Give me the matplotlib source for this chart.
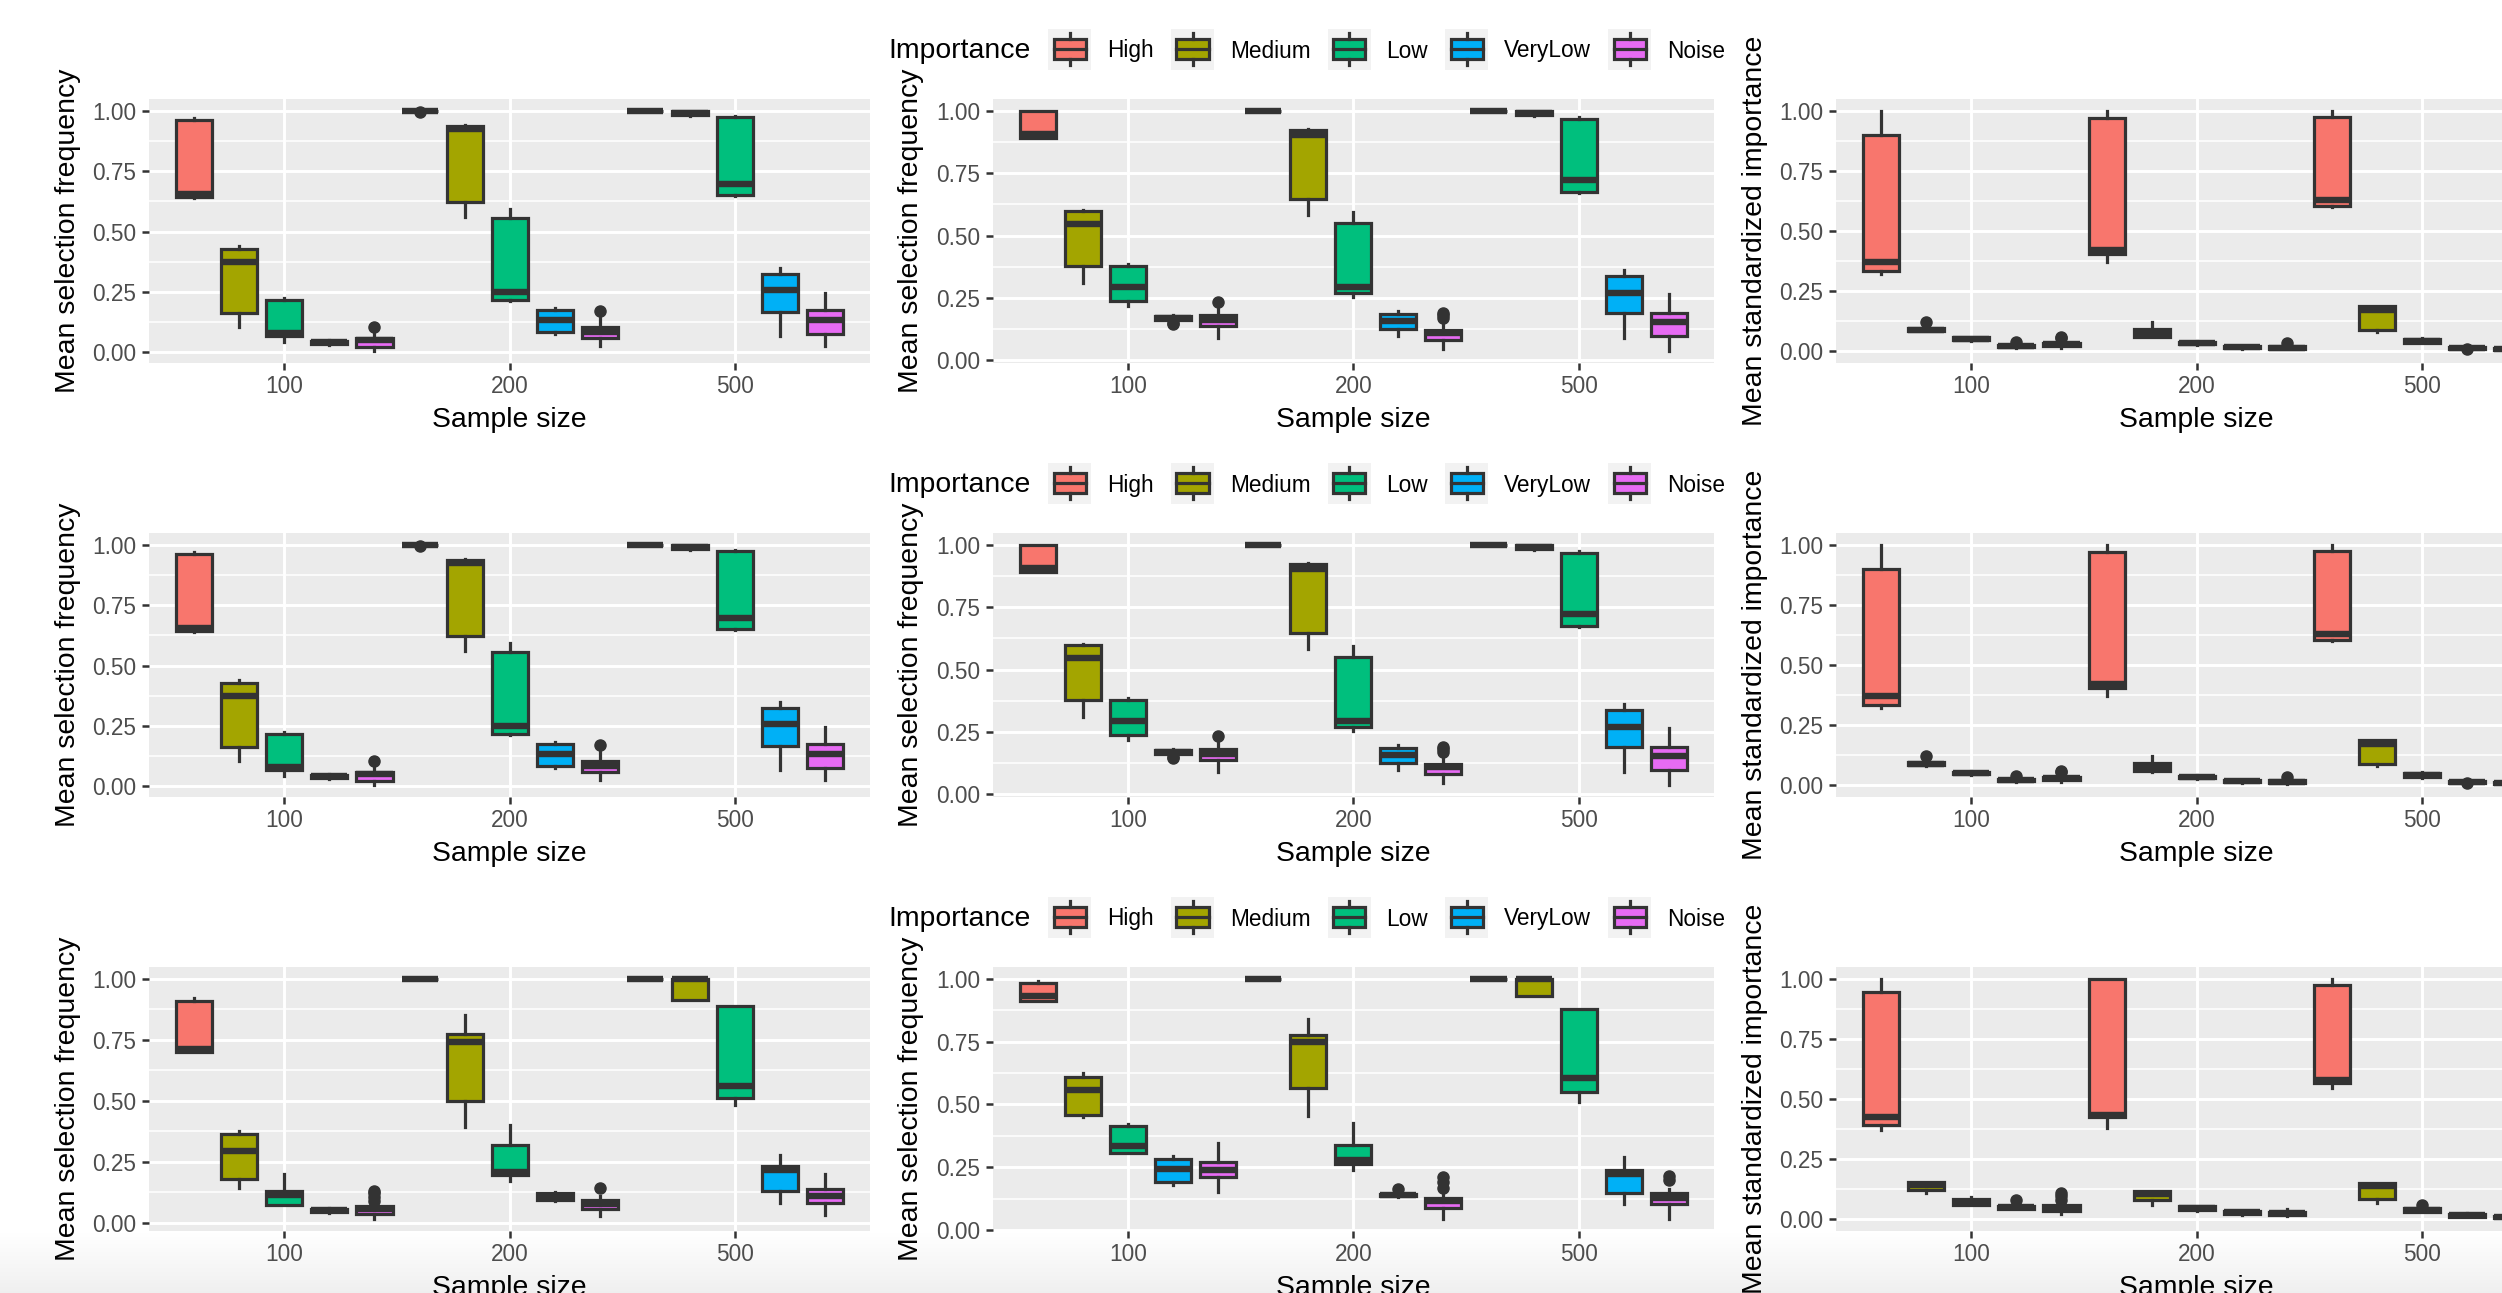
import numpy as np
import matplotlib.pyplot as plt
from matplotlib.patches import Rectangle
from matplotlib.ticker import FixedLocator

plt.rcParams['font.family'] = ['Liberation Sans', 'DejaVu Sans']

sample_sizes = ['100', '200', '500']
levels = ['High', 'Medium', 'Low', 'VeryLow', 'Noise']
level_colors = ['#F8766D', '#A3A500', '#00BF7D', '#00B0F6', '#E76BF3']
y_ticks = [0.0, 0.25, 0.5, 0.75, 1.0]
y_minor = [0.125, 0.375, 0.625, 0.875]

# each row: lower whisker, q1, median, q3, upper whisker
# rows 0-4 -> n=100 (High..Noise), 5-9 -> n=200, 10-14 -> n=500
freq_top_a = [
    [0.640, 0.642, 0.656, 0.961, 0.970],
    [0.106, 0.161, 0.374, 0.429, 0.439],
    [0.044, 0.069, 0.081, 0.216, 0.223],
    [0.030, 0.034, 0.041, 0.048, 0.052],
    [0.007, 0.023, 0.050, 0.060, 0.080],
    [1.000, 1.000, 1.000, 1.000, 1.000],
    [0.560, 0.624, 0.925, 0.937, 0.942],
    [0.213, 0.215, 0.248, 0.558, 0.594],
    [0.078, 0.085, 0.136, 0.175, 0.182],
    [0.028, 0.058, 0.083, 0.106, 0.154],
    [0.998, 0.998, 1.000, 1.000, 1.000],
    [0.980, 0.982, 0.990, 1.000, 1.000],
    [0.649, 0.653, 0.695, 0.972, 0.979],
    [0.069, 0.168, 0.260, 0.323, 0.351],
    [0.028, 0.076, 0.135, 0.177, 0.246],
]
freq_top_a_out = {4: [0.106], 5: [0.995], 9: [0.171]}

freq_top_b = [
    [0.890, 0.891, 0.907, 1.000, 1.000],
    [0.309, 0.378, 0.545, 0.598, 0.601],
    [0.218, 0.239, 0.295, 0.379, 0.386],
    [0.160, 0.162, 0.169, 0.178, 0.182],
    [0.089, 0.136, 0.160, 0.180, 0.207],
    [0.998, 0.998, 1.000, 1.000, 1.000],
    [0.581, 0.648, 0.904, 0.923, 0.926],
    [0.255, 0.269, 0.293, 0.551, 0.594],
    [0.098, 0.126, 0.156, 0.185, 0.198],
    [0.047, 0.082, 0.110, 0.122, 0.149],
    [0.998, 0.998, 1.000, 1.000, 1.000],
    [0.980, 0.982, 0.990, 1.000, 1.000],
    [0.672, 0.673, 0.723, 0.968, 0.976],
    [0.089, 0.191, 0.271, 0.338, 0.364],
    [0.039, 0.098, 0.152, 0.189, 0.265],
]
freq_top_b_out = {3: [0.145, 0.150], 4: [0.233], 9: [0.170, 0.180, 0.190]}

imp_top = [
    [0.321, 0.331, 0.368, 0.899, 1.000],
    [0.080, 0.083, 0.088, 0.095, 0.100],
    [0.040, 0.043, 0.050, 0.055, 0.058],
    [0.012, 0.014, 0.020, 0.025, 0.028],
    [0.011, 0.018, 0.027, 0.034, 0.040],
    [0.370, 0.404, 0.418, 0.968, 1.000],
    [0.055, 0.058, 0.068, 0.090, 0.120],
    [0.025, 0.027, 0.033, 0.038, 0.041],
    [0.008, 0.011, 0.014, 0.018, 0.020],
    [0.005, 0.008, 0.012, 0.018, 0.022],
    [0.597, 0.604, 0.630, 0.972, 1.000],
    [0.076, 0.086, 0.170, 0.186, 0.186],
    [0.030, 0.032, 0.042, 0.050, 0.052],
    [0.004, 0.006, 0.010, 0.014, 0.016],
    [0.000, 0.003, 0.006, 0.010, 0.013],
]
imp_top_out = {1: [0.120], 3: [0.038], 4: [0.052, 0.058], 9: [0.034], 13: [0.008]}

freq_bot_a = [
    [0.699, 0.699, 0.713, 0.908, 0.922],
    [0.142, 0.180, 0.294, 0.365, 0.376],
    [0.074, 0.074, 0.115, 0.128, 0.198],
    [0.040, 0.043, 0.050, 0.056, 0.060],
    [0.016, 0.037, 0.057, 0.067, 0.075],
    [1.000, 1.000, 1.000, 1.000, 1.000],
    [0.392, 0.499, 0.740, 0.775, 0.850],
    [0.169, 0.194, 0.208, 0.317, 0.402],
    [0.089, 0.092, 0.105, 0.120, 0.126],
    [0.027, 0.057, 0.078, 0.094, 0.110],
    [1.000, 1.000, 1.000, 1.000, 1.000],
    [0.911, 0.911, 0.997, 1.000, 1.000],
    [0.481, 0.512, 0.560, 0.888, 0.888],
    [0.082, 0.128, 0.214, 0.231, 0.276],
    [0.030, 0.081, 0.109, 0.137, 0.198],
]
freq_bot_a_out = {4: [0.090, 0.105, 0.120, 0.130], 9: [0.140]}

freq_bot_b = [
    [0.912, 0.912, 0.931, 0.984, 0.991],
    [0.449, 0.459, 0.558, 0.611, 0.627],
    [0.307, 0.307, 0.336, 0.413, 0.423],
    [0.178, 0.191, 0.244, 0.284, 0.297],
    [0.152, 0.211, 0.241, 0.272, 0.347],
    [1.000, 1.000, 1.000, 1.000, 1.000],
    [0.453, 0.567, 0.747, 0.776, 0.838],
    [0.239, 0.264, 0.281, 0.338, 0.426],
    [0.133, 0.135, 0.140, 0.145, 0.149],
    [0.046, 0.090, 0.116, 0.129, 0.155],
    [1.000, 1.000, 1.000, 1.000, 1.000],
    [0.930, 0.930, 0.997, 1.000, 1.000],
    [0.509, 0.549, 0.607, 0.879, 0.879],
    [0.103, 0.149, 0.222, 0.241, 0.292],
    [0.046, 0.103, 0.127, 0.149, 0.165],
]
freq_bot_b_out = {8: [0.165], 9: [0.170, 0.190, 0.210], 14: [0.200, 0.215]}

imp_bot = [
    [0.370, 0.389, 0.423, 0.945, 1.000],
    [0.108, 0.120, 0.140, 0.154, 0.154],
    [0.058, 0.058, 0.067, 0.083, 0.090],
    [0.039, 0.042, 0.048, 0.055, 0.058],
    [0.018, 0.034, 0.045, 0.058, 0.065],
    [0.379, 0.425, 0.434, 1.000, 1.000],
    [0.059, 0.076, 0.103, 0.117, 0.117],
    [0.034, 0.036, 0.045, 0.052, 0.055],
    [0.017, 0.019, 0.026, 0.032, 0.034],
    [0.011, 0.014, 0.022, 0.030, 0.041],
    [0.545, 0.566, 0.577, 0.972, 1.000],
    [0.066, 0.083, 0.138, 0.149, 0.149],
    [0.028, 0.030, 0.036, 0.044, 0.046],
    [0.006, 0.009, 0.014, 0.019, 0.023],
    [0.000, 0.003, 0.008, 0.012, 0.017],
]
imp_bot_out = {3: [0.076], 4: [0.080, 0.095, 0.108], 12: [0.058]}

# the middle row repeats the top row
rows = [
    [(freq_top_a, freq_top_a_out), (freq_top_b, freq_top_b_out), (imp_top, imp_top_out)],
    [(freq_top_a, freq_top_a_out), (freq_top_b, freq_top_b_out), (imp_top, imp_top_out)],
    [(freq_bot_a, freq_bot_a_out), (freq_bot_b, freq_bot_b_out), (imp_bot, imp_bot_out)],
]
ylabels = ['Mean selection frequency', 'Mean selection frequency', 'Mean standardized importance']

W, H = 2502, 1293
fig = plt.figure(figsize=(W / 100, H / 100), dpi=100)

col_left = [149, 992.5, 1836]
row_top = [98.7, 532.7, 966.7]
pw, ph = 721.5, 264
dark = '#333333'


def px_axes(x, y, w, h):
    return fig.add_axes([x / W, 1 - (y + h) / H, w / W, h / H])


# faint grey fade along the bottom edge, behind everything
fade = px_axes(0, 1232, W, H - 1232)
fade.set_zorder(-10)
g = np.linspace(1.0, 0.94, 50)[:, None, None] * np.ones((1, 2, 3))
fade.imshow(g, aspect='auto', extent=(0, 1, 0, 1), origin='upper')
fade.axis('off')


def draw_panel(ax, stats, outliers, ylabel):
    boxes, pos = [], []
    for k, (lo, q1, med, q3, hi) in enumerate(stats):
        i, j = divmod(k, 5)
        boxes.append(dict(whislo=lo, q1=q1, med=med, q3=q3, whishi=hi,
                          fliers=outliers.get(k, [])))
        pos.append(i + 1 + (j - 2) * 0.2)
    art = ax.bxp(boxes, positions=pos, widths=0.16, patch_artist=True, showcaps=False,
                 boxprops=dict(edgecolor=dark, linewidth=2.3),
                 whiskerprops=dict(color=dark, linewidth=2.3),
                 medianprops=dict(color=dark, linewidth=4.6, solid_capstyle='butt'),
                 flierprops=dict(marker='o', markerfacecolor=dark, markeredgecolor=dark,
                                 markersize=8))
    for k, patch in enumerate(art['boxes']):
        patch.set_facecolor(level_colors[k % 5])

    vals = [v for s in stats for v in (s[0], s[4])]
    vals += [v for fl in outliers.values() for v in fl]
    lo, hi = min(vals), max(vals)
    pad = 0.05 * (hi - lo)
    ax.set_ylim(lo - pad, hi + pad)
    ax.set_xlim(0.4, 3.6)
    ax.set_xticks([1, 2, 3])
    ax.set_xticklabels(sample_sizes)
    ax.set_yticks(y_ticks)
    ax.set_yticklabels(['%.2f' % t for t in y_ticks])
    ax.yaxis.set_minor_locator(FixedLocator(y_minor))
    ax.set_facecolor('#EBEBEB')
    ax.set_axisbelow(True)
    ax.grid(which='major', color='white', linewidth=2.1)
    ax.grid(which='minor', axis='y', color='white', linewidth=1.1)
    for s in ax.spines.values():
        s.set_visible(False)
    ax.tick_params(which='major', length=5, width=1.8, color=dark, pad=4,
                   labelsize=16.3, labelcolor='#4D4D4D')
    ax.tick_params(which='minor', length=0)
    ax.set_xlabel('Sample size', fontsize=20.4)
    ax.xaxis.set_label_coords(0.5, -(407 - 363) / ph)
    ax.set_ylabel(ylabel, fontsize=20.4)
    ax.yaxis.set_label_coords((81 - 149) / pw, 0.5)


def draw_legend(cy):
    r = fig.canvas.get_renderer()
    x = 888
    ty = 1 - (cy + 3.5) / H
    t = fig.text(x / W, ty, 'Importance', fontsize=20.4, va='center', ha='left')
    x += t.get_window_extent(r).width + 18
    for name, col in zip(levels, level_colors):
        k = px_axes(x, cy - 19, 43, 41)
        k.set_facecolor('#F2F2F2')
        k.set_xlim(0, 1)
        k.set_ylim(0, 1)
        k.set_xticks([])
        k.set_yticks([])
        for s in k.spines.values():
            s.set_visible(False)
        k.plot([0.5, 0.5], [0.1, 0.25], color=dark, lw=2.3)
        k.plot([0.5, 0.5], [0.75, 0.9], color=dark, lw=2.3)
        k.add_patch(Rectangle((0.125, 0.25), 0.75, 0.5, facecolor=col,
                              edgecolor=dark, lw=2.3))
        k.plot([0.125, 0.875], [0.5, 0.5], color=dark, lw=2.3)
        x += 43 + 16
        lt = fig.text(x / W, ty, name, fontsize=16.3, va='center', ha='left')
        x += lt.get_window_extent(r).width + 17


for r_i, row in enumerate(rows):
    for c_i, (stats, outs) in enumerate(row):
        ax = px_axes(col_left[c_i], row_top[r_i], pw, ph)
        draw_panel(ax, stats, outs, ylabels[c_i])
    draw_legend(47.5 + 434 * r_i)

fig.savefig('out.png', dpi=100)
